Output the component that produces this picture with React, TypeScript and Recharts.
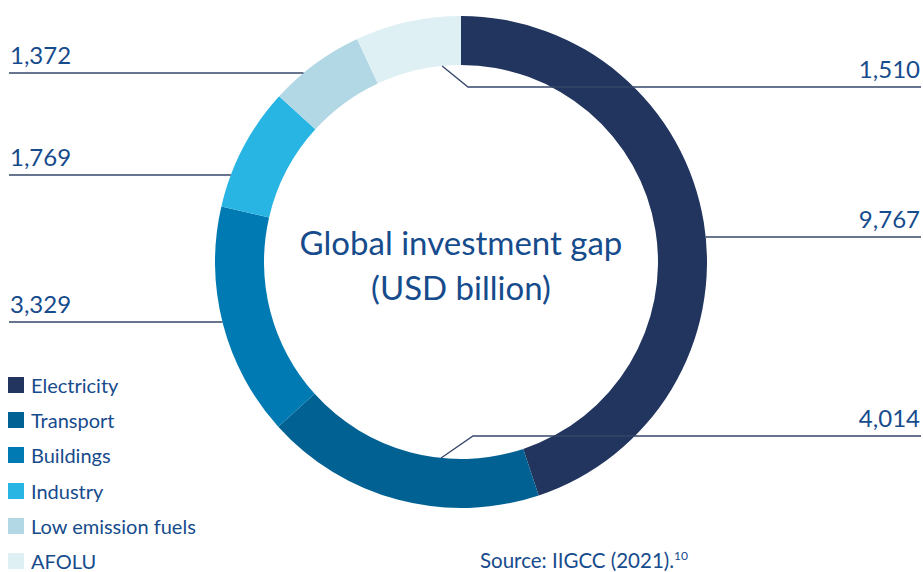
import React from 'react';
import { PieChart, Pie, Cell } from 'recharts';

// sectors, clockwise from 12 o'clock
const sectors = ['Electricity', 'Transport', 'Buildings', 'Industry', 'Low emission fuels', 'AFOLU'];
const gapValues = [9767, 4014, 3329, 1769, 1372, 1510];
const sectorColors = ['#22355e', '#006192', '#007ab3', '#29b5e3', '#b2d8e6', '#dff0f5'];

const chartData = sectors.map((name, i) => ({ name, value: gapValues[i] }));

// where each value label sits: side of the chart and the y of its leader line.
// elbow labels start on the inner edge of the ring
type LabelSpot = { side: 'left' | 'right'; lineY: number; innerAngle?: number; elbowX?: number };
const labelSpots: LabelSpot[] = [
  { side: 'right', lineY: 237 },
  { side: 'right', lineY: 436, innerAngle: 185.8, elbowX: 473 },
  { side: 'left', lineY: 322 },
  { side: 'left', lineY: 175 },
  { side: 'left', lineY: 73 },
  { side: 'right', lineY: 87, innerAngle: 354.5, elbowX: 468 },
];

const W = 923;
const H = 572;
const TEXT_BLUE = '#164b8c';
const LINE_COLOR = '#34476a';
const FONT = 'Lato, "Open Sans", sans-serif';

const renderValueLabel = (props: any) => {
  const { cx, cy, innerRadius, outerRadius, index, value } = props;
  const spot = labelSpots[index];
  if (!spot) return null;
  const text = Number(value).toLocaleString('en-US');
  const dy = spot.lineY - cy;
  const edgeDx = Math.sqrt(Math.max(outerRadius * outerRadius - dy * dy, 0));

  if (spot.side === 'left') {
    const x2 = cx - edgeDx;
    return (
      <g key={`lbl-${index}`}>
        <line x1={9} y1={spot.lineY} x2={x2} y2={spot.lineY} stroke={LINE_COLOR} strokeWidth={1.3} />
        <text x={10} y={spot.lineY - 9} fill={TEXT_BLUE} fontSize={24} fontFamily={FONT}>{text}</text>
      </g>
    );
  }

  let path: string;
  if (spot.innerAngle !== undefined && spot.elbowX !== undefined) {
    const a = (spot.innerAngle * Math.PI) / 180;
    const sx = cx + innerRadius * Math.sin(a);
    const sy = cy - innerRadius * Math.cos(a);
    path = `M${sx},${sy} L${spot.elbowX},${spot.lineY} L${W - 2},${spot.lineY}`;
  } else {
    path = `M${cx + edgeDx},${spot.lineY} L${W - 2},${spot.lineY}`;
  }
  return (
    <g key={`lbl-${index}`}>
      <path d={path} stroke={LINE_COLOR} strokeWidth={1.3} fill="none" />
      <text x={W - 3} y={spot.lineY - 9} textAnchor="end" fill={TEXT_BLUE} fontSize={24} fontFamily={FONT}>{text}</text>
    </g>
  );
};

export default function App() {
  return (
    <div style={{ position: 'absolute', left: 0, top: 0, width: W, height: H, background: '#fff', overflow: 'hidden' }}>
      <PieChart width={W} height={H} margin={{ top: 0, right: 0, bottom: 0, left: 0 }}>
        <Pie
          data={chartData}
          dataKey="value"
          nameKey="name"
          cx={461}
          cy={262}
          innerRadius={197}
          outerRadius={246}
          startAngle={90}
          endAngle={-270}
          stroke="none"
          label={renderValueLabel}
          labelLine={false}
          isAnimationActive={false}
        >
          {chartData.map((d, i) => (
            <Cell key={d.name} fill={sectorColors[i]} />
          ))}
        </Pie>
      </PieChart>

      {/* centre caption */}
      <div
        style={{
          position: 'absolute', left: 261, top: 220, width: 400, textAlign: 'center',
          fontFamily: FONT, fontSize: 33, lineHeight: '45px', color: TEXT_BLUE,
        }}
      >
        Global investment gap
        <br />
        (USD billion)
      </div>

      {/* legend */}
      <div style={{ position: 'absolute', left: 8, top: 377, fontFamily: FONT, fontSize: 20, color: TEXT_BLUE }}>
        {sectors.map((name, i) => (
          <div key={name} style={{ display: 'flex', alignItems: 'center', height: 16, marginBottom: 19.2 }}>
            <span style={{ width: 16, height: 16, background: sectorColors[i], display: 'inline-block', marginRight: 7, flex: 'none' }} />
            <span style={{ lineHeight: '16px' }}>{name}</span>
          </div>
        ))}
      </div>

      {/* source note */}
      <div style={{ position: 'absolute', left: 480, top: 549, fontFamily: FONT, fontSize: 20.5, lineHeight: '22px', color: TEXT_BLUE, whiteSpace: 'nowrap' }}>
        Source: IIGCC (2021).<sup style={{ fontSize: 12, verticalAlign: 'super', lineHeight: 0 }}>10</sup>
      </div>
    </div>
  );
}
